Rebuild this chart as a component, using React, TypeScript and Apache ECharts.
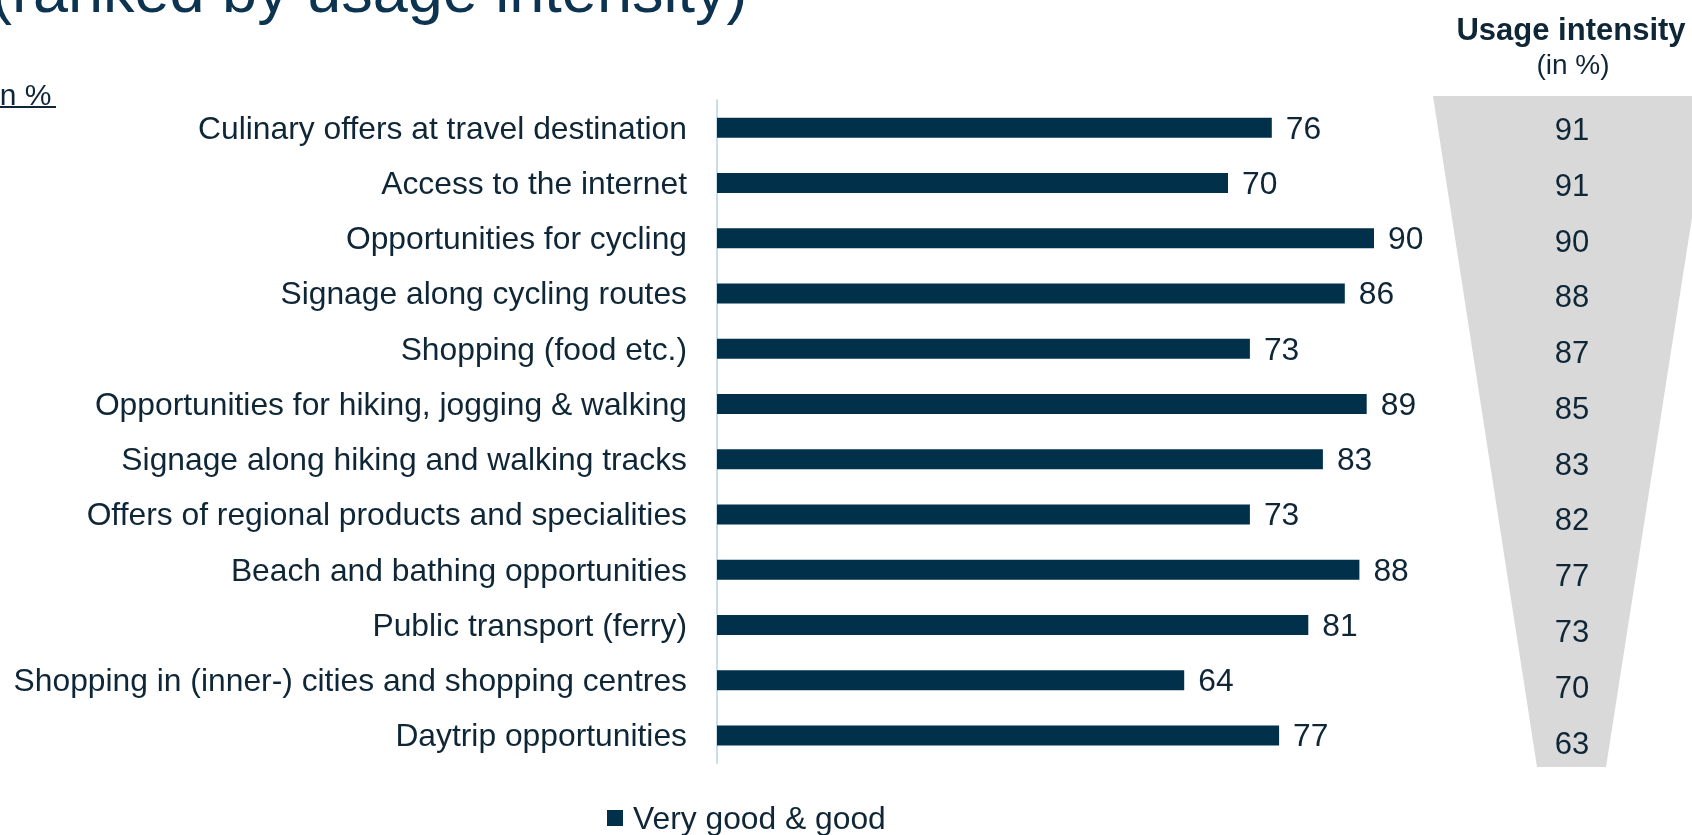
import React, { useEffect, useRef } from "react";
import * as echarts from "echarts";

const categories: string[] = [
  "Culinary offers at travel destination",
  "Access to the internet",
  "Opportunities for cycling",
  "Signage along cycling routes",
  "Shopping (food etc.)",
  "Opportunities for hiking, jogging & walking",
  "Signage along hiking and walking tracks",
  "Offers of regional products and specialities",
  "Beach and bathing opportunities",
  "Public transport (ferry)",
  "Shopping in (inner-) cities and shopping centres",
  "Daytrip opportunities",
];
const veryGoodGood: number[] = [76, 70, 90, 86, 73, 89, 83, 73, 88, 81, 64, 77];
const usageIntensity: number[] = [91, 91, 90, 88, 87, 85, 83, 82, 77, 73, 70, 63];
const seriesName = "Very good & good";
const titleText = "(ranked by usage intensity)";
const unitText = "in %";
const usageHeader = "Usage intensity";
const usageUnit = "(in %)";

const FONT = "'Liberation Sans', Arial, Helvetica, sans-serif";
const TEXT = "#0f2636";
const NAVY = "#01304a";

export default function App() {
  const ref = useRef<HTMLDivElement>(null);
  useEffect(() => {
    if (!ref.current) return;
    const chart = echarts.init(ref.current, null, { renderer: "svg" });
    chart.setOption({
      animation: false,
      textStyle: { fontFamily: FONT },
      grid: [
        { left: 717, top: 100, width: 730, height: 663, containLabel: false },
        { left: 1522, top: 101.6, width: 100, height: 669.4, containLabel: false },
      ],
      legend: {
        data: [seriesName],
        left: 602,
        top: 796,
        icon: "rect",
        itemWidth: 16,
        itemHeight: 16,
        textStyle: { fontSize: 31.8, color: TEXT, fontFamily: FONT, lineHeight: 34, padding: [0, 0, 0, 5] },
      },
      xAxis: [
        { gridIndex: 0, type: "value", min: 0, max: 100, show: false },
        { gridIndex: 1, type: "value", min: 0, max: 1, show: false },
      ],
      yAxis: [
        {
          gridIndex: 0,
          type: "category",
          data: categories,
          inverse: true,
          axisLine: { show: true, lineStyle: { color: "#c6def0", width: 2 } },
          axisTick: { show: false },
          splitLine: { show: false },
          axisLabel: { fontSize: 31.8, color: TEXT, margin: 30, fontFamily: FONT },
        },
        {
          gridIndex: 1,
          type: "category",
          data: categories,
          inverse: true,
          show: false,
        },
      ],
      graphic: [
        {
          type: "polygon",
          z: 0,
          shape: { points: [[1433, 96], [1711, 96], [1606, 767], [1537, 767]] },
          style: { fill: "#d9d9d9" },
        },
        {
          type: "text",
          x: -9,
          y: -10,
          style: { text: titleText, fontSize: 63, fill: "#0c3350", fontFamily: FONT, verticalAlign: "middle", align: "left" },
        },
        {
          type: "text",
          x: -7,
          y: 94,
          style: { text: unitText, fontSize: 30, fill: TEXT, fontFamily: FONT, verticalAlign: "middle", align: "left" },
        },
        {
          type: "line",
          shape: { x1: 0, y1: 107, x2: 56, y2: 107 },
          style: { stroke: TEXT, lineWidth: 2 },
        },
        {
          type: "text",
          x: 1571,
          y: 29,
          style: { text: usageHeader, fontSize: 31, fontWeight: "bold", fill: TEXT, fontFamily: FONT, verticalAlign: "middle", align: "center" },
        },
        {
          type: "text",
          x: 1573,
          y: 64,
          style: { text: usageUnit, fontSize: 28, fill: TEXT, fontFamily: FONT, verticalAlign: "middle", align: "center" },
        },
      ],
      series: [
        {
          name: seriesName,
          type: "bar",
          xAxisIndex: 0,
          yAxisIndex: 0,
          data: veryGoodGood,
          barWidth: 20,
          itemStyle: { color: NAVY },
          label: { show: true, position: "right", distance: 14, fontSize: 31.8, color: TEXT, fontFamily: FONT },
        },
        {
          name: "Usage intensity",
          type: "scatter",
          xAxisIndex: 1,
          yAxisIndex: 1,
          symbolSize: 0,
          itemStyle: { color: NAVY },
          data: usageIntensity.map((v, i) => [0.5, i, v]),
          label: {
            show: true,
            position: "inside",
            fontSize: 31,
            color: TEXT,
            opacity: 1,
            textBorderWidth: 0,
            fontFamily: FONT,
            formatter: (p: any) => String(p.value[2]),
          },
          z: 3,
        },
      ],
    });
    return () => chart.dispose();
  }, []);
  return <div ref={ref} style={{ position: "fixed", left: 0, top: 0, width: 1692, height: 835 }} />;
}
